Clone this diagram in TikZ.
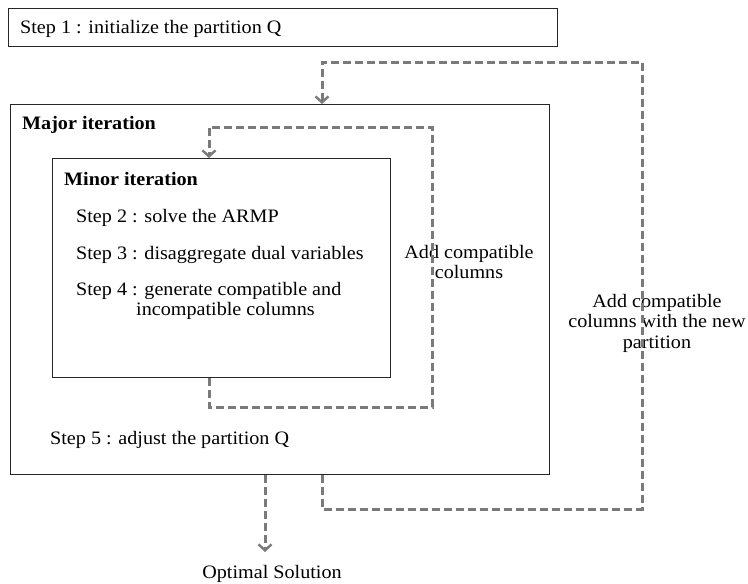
\documentclass[tikz,border=0pt]{standalone}
\usepackage{fontspec}
\setmainfont[FakeStretch=1.06]{Liberation Serif}
\usetikzlibrary{arrows.meta}
\begin{document}
\begin{tikzpicture}[x=1pt,y=-1pt,
  box/.style={draw=black!85, line width=1pt, inner sep=0pt, anchor=north west},
  txt/.style={anchor=mid west, inner sep=0pt, font=\fontsize{19}{20.5}\selectfont},
  ctxt/.style={align=center, inner sep=0pt, font=\fontsize{19}{20.5}\selectfont},
  loop/.style={draw=black!52, line width=3pt, dash pattern=on 8pt off 4pt},
  looparrow/.style={loop, -{Straight Barb[length=6pt,width=13pt,line width=2.4pt]}}
]
\useasboundingbox (0,0) rectangle (748,584);
% boxes
\node[box, minimum width=549pt, minimum height=38pt] (s1) at (8,8) {};
\node[box, minimum width=539pt, minimum height=370pt] (major) at (10,104) {};
\node[box, minimum width=338pt, minimum height=219pt] (minor) at (52,158) {};
% texts
\node[txt] (t1) at (20,31) {Step 1 : initialize the partition Q};
\node[txt] (tmaj) at (22,127) {\bfseries Major iteration};
\node[txt] (tmin) at (64,183) {\bfseries Minor iteration};
\node[txt] (t2) at (76,220) {Step 2 : solve the ARMP};
\node[txt] (t3) at (76,257) {Step 3 : disaggregate dual variables};
\node[txt] (t4) at (76,293) {Step 4 : generate compatible and};
\node[txt] (t4b) at (136,313) {incompatible columns};
\node[txt] (t5) at (50,442) {Step 5 : adjust the partition Q};
\node[ctxt] (l1) at (469,262) {Add compatible\\columns};
\node[ctxt] (l2) at (657,323) {Add compatible\\columns with the new\\partition};
\node[txt, anchor=mid] (opt) at (272,576) {Optimal Solution};
% coordinates of the loops
\coordinate (i1) at (209,407);
\coordinate (i2) at (432,407);
\coordinate (i3) at (432,127);
\coordinate (i4) at (209,127);
\coordinate (o1) at (322,509);
\coordinate (o2) at (642,509);
\coordinate (o3) at (642,62);
\coordinate (o4) at (322,62);
\coordinate (ox) at (265,552);
% inner loop
\draw[looparrow] (minor.south -| i1) -- (i1) -- (i2) -- (i3) -- (i4) -- (minor.north -| i4);
% outer loop
\draw[looparrow] (major.south -| o1) -- (o1) -- (o2) -- (o3) -- (o4) -- (major.north -| o4);
% exit
\draw[looparrow] (major.south -| ox) -- (ox);
\end{tikzpicture}
\end{document}
